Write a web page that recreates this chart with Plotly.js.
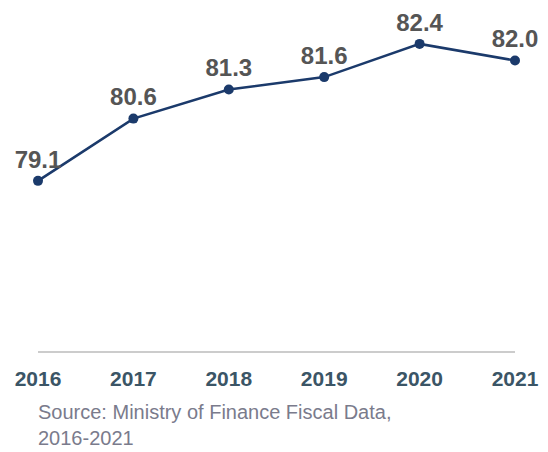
<!DOCTYPE html>
<html>
<head>
<meta charset="utf-8">
<script src="https://cdn.plot.ly/plotly-3.0.1.min.js"></script>
<style>html,body{margin:0;padding:0;background:#fff;}#chart{width:548px;height:452px;}</style>
</head>
<body>
<div id="chart"></div>
<script>
const years = ["2016", "2017", "2018", "2019", "2020", "2021"];
const values = [79.1, 80.6, 81.3, 81.6, 82.4, 82.0];
const valueLabels = ["79.1", "80.6", "81.3", "81.6", "82.4", "82.0"];
const sourceText = "Source: Ministry of Finance Fiscal Data,<br>2016-2021";

const trace = {
  x: years,
  y: values,
  type: "scatter",
  mode: "lines+markers+text",
  text: valueLabels,
  textposition: "top center",
  textfont: {family: "Liberation Sans, Arial, sans-serif", size: 24, color: "#555555", weight: "bold"},
  line: {color: "#1b3a6b", width: 2.5},
  marker: {color: "#1b3a6b", size: 10},
  cliponaxis: false,
  hoverinfo: "skip"
};

const layout = {
  width: 548, height: 452,
  margin: {l: 38, r: 33, t: 19, b: 101},
  paper_bgcolor: "#ffffff", plot_bgcolor: "#ffffff",
  showlegend: false,
  font: {family: "Liberation Sans, Arial, sans-serif"},
  xaxis: {
    type: "category", range: [0, 5],
    showgrid: false, zeroline: false,
    showline: true, linecolor: "#cccccc", linewidth: 1.5,
    ticks: "", ticklabelstandoff: 8,
    tickfont: {family: "Liberation Sans, Arial, sans-serif", size: 21, color: "#3b5566", weight: "bold"},
    fixedrange: true
  },
  yaxis: {
    range: [75.0, 83.0], visible: false, showgrid: false, zeroline: false, fixedrange: true
  },
  annotations: [{
    text: sourceText, xref: "paper", yref: "paper",
    x: -0.005, y: -0.145, xanchor: "left", yanchor: "top", align: "left",
    showarrow: false,
    font: {family: "Liberation Sans, Arial, sans-serif", size: 20, color: "#7a7b8c"}
  }]
};

Plotly.newPlot("chart", [trace], layout, {displayModeBar: false, staticPlot: true});
</script>
</body>
</html>
